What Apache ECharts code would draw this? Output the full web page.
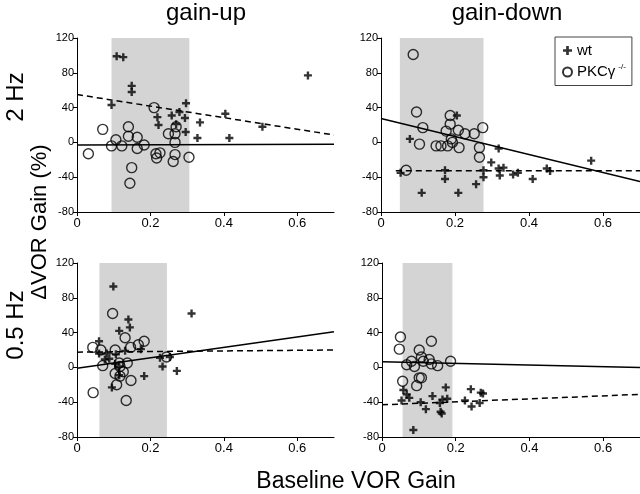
<!DOCTYPE html>
<html><head><meta charset="utf-8">
<script src="https://cdn.jsdelivr.net/npm/echarts@6/dist/echarts.min.js"></script>
<style>html,body{margin:0;padding:0;background:#fff}#c{width:640px;height:494px}</style>
</head><body><div id="c"></div>
<script>
// ---------- data ----------
const xTicks = [0, 0.2, 0.4, 0.6];
const yTicks = [-80, -40, 0, 40, 80, 120];
const colTitles = ['gain-up', 'gain-down'];
const rowTitles = ['2 Hz', '0.5 Hz'];
const seriesNames = ['wt', 'PKCγ'];

// 2 Hz, gain-up
const tlWt = [[0.108,99],[0.126,98],[0.149,65],[0.149,58],[0.094,43],[0.297,45],[0.258,31],[0.279,35],[0.219,29],[0.222,20],[0.27,21],[0.294,28],[0.335,23],[0.296,12],[0.328,5],[0.404,33],[0.415,5],[0.505,18],[0.629,77]];
const tlPkc = [[0.031,-13],[0.07,15],[0.094,-4],[0.106,3],[0.122,-4],[0.14,18],[0.14,7],[0.164,6],[0.164,-7],[0.183,-3],[0.149,-29],[0.144,-47],[0.21,40],[0.215,-13],[0.217,-18],[0.226,-12],[0.249,10],[0.27,18],[0.267,10],[0.267,0],[0.267,-14],[0.262,-22],[0.305,-17]];
const tlWtFit = [[0,55],[0.7,8.5]];
const tlPkcFit = [[0,-3],[0.7,-2]];
const tlShade = [0.094, 0.306];

// 2 Hz, gain-down
const trWt = [[0.205,31],[0.078,4],[0.053,-35],[0.173,-32],[0.173,-42],[0.11,-58],[0.209,-58],[0.257,-48],[0.277,-32],[0.277,-40],[0.298,-23],[0.318,-7],[0.318,-30],[0.321,-38],[0.331,-29],[0.357,-37],[0.37,-35],[0.41,-42],[0.448,-30],[0.457,-33],[0.568,-21]];
const trPkc = [[0.087,101],[0.096,35],[0.113,17],[0.104,-2],[0.149,-4],[0.162,-4],[0.18,-4],[0.187,31],[0.187,21],[0.176,13],[0.19,4],[0.193,0],[0.209,14],[0.211,-6],[0.227,10],[0.252,10],[0.275,17],[0.266,-6],[0.266,-17],[0.068,-32]];
const trWtFit = [[0.04,-32.5],[0.7,-32.5]];
const trPkcFit = [[0,27.5],[0.7,-45]];
const trShade = [0.051, 0.277];

// 0.5 Hz, gain-up
const blWt = [[0.099,93],[0.312,62],[0.14,55],[0.144,46],[0.115,42],[0.06,30],[0.06,16],[0.081,16],[0.076,9],[0.088,10],[0.106,15],[0.131,19],[0.174,21],[0.104,4],[0.115,1],[0.183,-10],[0.095,-23],[0.226,11],[0.233,1],[0.253,12],[0.272,-4],[0.115,-9]];
const blPkc = [[0.043,23],[0.044,-29],[0.065,20],[0.07,2],[0.097,62],[0.104,20],[0.115,5],[0.137,5],[0.131,34],[0.146,23],[0.167,26],[0.183,30],[0.104,-7],[0.117,-10],[0.126,-5],[0.108,-20],[0.147,-15],[0.134,-38],[0.244,12],[0.117,1]];
const blWtFit = [[0,17.5],[0.7,20]];
const blPkcFit = [[0,-1],[0.7,41]];
const blShade = [0.061, 0.245];

// 0.5 Hz, gain-down
const brWt = [[0.058,-26],[0.067,-31],[0.074,-35],[0.053,-38],[0.105,-40],[0.119,-48],[0.137,-33],[0.085,-72],[0.157,-41],[0.159,-51],[0.164,-37],[0.173,-23],[0.177,-36],[0.225,-38],[0.241,-25],[0.243,-45],[0.265,-41],[0.268,-29],[0.274,-30],[0.162,-53]];
const brPkc = [[0.05,35],[0.047,21],[0.056,-16],[0.067,3],[0.08,7],[0.088,1],[0.101,20],[0.107,12],[0.112,7],[0.101,-12],[0.107,-12],[0.094,-21],[0.134,30],[0.128,9],[0.134,4],[0.151,2],[0.186,7]];
const brWtFit = [[0,-43],[0.7,-31]];
const brPkcFit = [[0,6.5],[0.7,0]];
const brShade = [0.056, 0.191];

// ---------- build ----------
const FONT = 'Arial, "Liberation Sans", Helvetica, sans-serif';
const PLUS = 'path://M2.8,0H5.2V2.8H8V5.2H5.2V8H2.8V5.2H0V2.8H2.8Z';
const panels = [
  {grid:{left:77, top:38, width:257, height:174}, wt:tlWt, pkc:tlPkc, wtFit:tlWtFit, pkcFit:tlPkcFit, shade:tlShade},
  {grid:{left:381, top:38, width:259, height:174}, wt:trWt, pkc:trPkc, wtFit:trWtFit, pkcFit:trPkcFit, shade:trShade},
  {grid:{left:77, top:263, width:257, height:174}, wt:blWt, pkc:blPkc, wtFit:blWtFit, pkcFit:blPkcFit, shade:blShade},
  {grid:{left:382, top:263, width:258, height:174}, wt:brWt, pkc:brPkc, wtFit:brWtFit, pkcFit:brPkcFit, shade:brShade}
];

const grid = [], xAxis = [], yAxis = [], series = [];
panels.forEach((p, i) => {
  grid.push(Object.assign({containLabel:false}, p.grid));
  xAxis.push({
    type:'value', gridIndex:i, min:0, max:0.7,
    axisLine:{show:true, onZero:false, lineStyle:{color:'#000', width:1}},
    axisTick:{show:true, inside:false, length:4, customValues:xTicks, lineStyle:{color:'#000'}},
    axisLabel:{customValues:xTicks, color:'#000', fontSize:13, fontFamily:FONT, margin:5},
    splitLine:{show:false}
  });
  yAxis.push({
    type:'value', gridIndex:i, min:-80, max:120, interval:40,
    axisLine:{show:true, onZero:false, lineStyle:{color:'#000', width:1}},
    axisTick:{show:true, inside:false, length:4, lineStyle:{color:'#000'}},
    axisLabel:{color:'#000', fontSize:11, fontFamily:FONT, margin:3},
    splitLine:{show:false}
  });
  series.push({
    type:'line', xAxisIndex:i, yAxisIndex:i, data:[], z:0, silent:true,
    markArea:{silent:true, itemStyle:{color:'#d4d4d4'},
      data:[[{xAxis:p.shade[0]},{xAxis:p.shade[1]}]]}
  });
  series.push({type:'line', xAxisIndex:i, yAxisIndex:i, data:p.wtFit, symbol:'none', z:2, silent:true,
    lineStyle:{color:'#000', width:1.5, type:[6,4]}});
  series.push({type:'line', xAxisIndex:i, yAxisIndex:i, data:p.pkcFit, symbol:'none', z:2, silent:true,
    lineStyle:{color:'#000', width:1.5, type:'solid'}});
  series.push({name:seriesNames[1], type:'scatter', xAxisIndex:i, yAxisIndex:i, data:p.pkc, z:3,
    symbol:'circle', symbolSize:10,
    itemStyle:{color:'rgba(0,0,0,0)', borderColor:'#000', borderWidth:1.4}});
  series.push({name:seriesNames[0], type:'scatter', xAxisIndex:i, yAxisIndex:i, data:p.wt, z:4,
    symbol:PLUS, symbolSize:8, itemStyle:{color:'#000'}});
});

const txt = (x, y, t, size, rot) => ({
  type:'text', x:x, y:y, rotation:rot || 0,
  style:{text:t, font: size + 'px ' + FONT, fill:'#000', textAlign:'center', textVerticalAlign:'middle'}
});

const option = {
  animation:false,
  backgroundColor:'#fff',
  grid, xAxis, yAxis, series,
  legend:{
    orient:'vertical', left:555, top:37, padding:[6,6,6,7], itemGap:5,
    borderColor:'#444', borderWidth:1, backgroundColor:'#fff',
    itemWidth:9, itemHeight:9,
    data:[{name:seriesNames[0], icon:PLUS}, {name:seriesNames[1], icon:'circle'}],
    formatter: n => n === seriesNames[1] ? n + '{sup|-/-}' : n,
    textStyle:{fontSize:15, fontFamily:FONT, color:'#000',
      rich:{sup:{fontSize:8, fontFamily:FONT, color:'#000', verticalAlign:'top', padding:[0,0,10,3]}}}
  },
  graphic:[
    txt(206, 13, colTitles[0], 24),
    txt(507, 13, colTitles[1], 24),
    txt(16, 97, rowTitles[0], 24, Math.PI/2),
    txt(16, 325, rowTitles[1], 24, Math.PI/2),
    txt(40, 222, 'ΔVOR Gain (%)', 22, Math.PI/2),
    txt(356, 482, 'Baseline VOR Gain', 23)
  ]
};
echarts.init(document.getElementById('c'), null, {renderer:'canvas'}).setOption(option);
</script></body></html>
